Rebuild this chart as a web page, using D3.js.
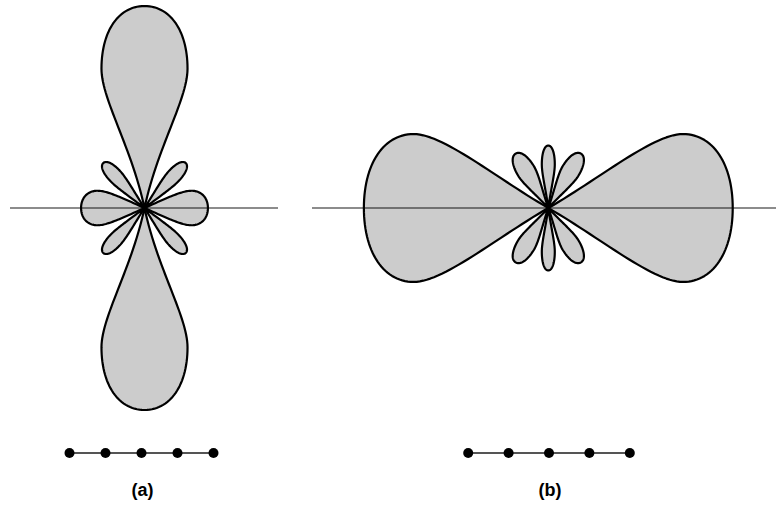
<!DOCTYPE html>
<html>
<head>
<meta charset="utf-8">
<script src="https://cdn.jsdelivr.net/npm/d3@7"></script>
<style>
  body { margin: 0; background: #fff; }
  svg { display: block; }
</style>
</head>
<body>
<div id="chart"></div>
<script>
//Lobes of the broadside pattern (a): direction (deg, from array axis), relative gain,
//half-width / length, where the widest point sits, angle at the root (deg)
var lobeAngleA = [90, 270, 0, 180, 47.5, 132.5, 227.5, 312.5];
var lobeGainA  = [1, 1, 0.314, 0.314, 0.302, 0.302, 0.302, 0.302];
var lobeWidthA = [0.213, 0.213, 0.272, 0.272, 0.115, 0.115, 0.115, 0.115];
var lobePeakA  = [0.69, 0.69, 0.74, 0.74, 0.72, 0.72, 0.72, 0.72];
var lobeRootA  = [12, 12, 24, 24, 10, 10, 10, 10];

//Lobes of the endfire pattern (b)
var lobeAngleB = [0, 180, 90, 270, 59, 121, 239, 301];
var lobeGainB  = [0.913, 0.913, 0.309, 0.309, 0.314, 0.314, 0.314, 0.314];
var lobeWidthB = [0.401, 0.401, 0.104, 0.104, 0.145, 0.145, 0.145, 0.145];
var lobePeakB  = [0.73, 0.73, 0.70, 0.70, 0.68, 0.68, 0.68, 0.68];
var lobeRootB  = [30, 30, 8, 8, 12, 12, 12, 12];

//The five array elements and the panel labels
var elements = [-2, -1, 0, 1, 2];
var labels = ["(a)", "(b)"];

var width = 776,
    height = 512;

var svg = d3.select("#chart").append("svg")
    .attr("width", width)
    .attr("height", height);

//Radial scale: gain 1 = length of the broadside main lobe
var rScale = d3.scaleLinear().domain([0, 1]).range([0, 202]);

var panels = [
  {label: labels[0], cx: 144.5, cy: 208, axis: [10, 278], dotX: 141.5, dotStep: 36,
   angle: lobeAngleA, gain: lobeGainA, w: lobeWidthA, peak: lobePeakA, root: lobeRootA},
  {label: labels[1], cx: 548.3, cy: 208, axis: [312, 776], dotX: 549, dotStep: 40.4,
   angle: lobeAngleB, gain: lobeGainB, w: lobeWidthB, peak: lobePeakB, root: lobeRootB}
];

///////////////////////////////////////////////////////////////////////////
//////////////////////// Build one lobe outline ///////////////////////////
///////////////////////////////////////////////////////////////////////////

//lobe lies along +x with its root at the origin. Each half is two cubics:
//root -> widest point (flat there), then widest point -> rounded tip
function cubic(p0, p1, p2, p3, t) {
  var u = 1 - t;
  return [
    u*u*u*p0[0] + 3*u*u*t*p1[0] + 3*u*t*t*p2[0] + t*t*t*p3[0],
    u*u*u*p0[1] + 3*u*u*t*p1[1] + 3*u*t*t*p2[1] + t*t*t*p3[1]
  ];
}

function lobePoints(len, wRatio, peakPos, rootDeg) {
  var B = wRatio * len, D = peakPos * len, A = len - D;
  var ra = rootDeg * Math.PI / 180;
  var k1 = 0.45 * D, k2 = 0.22 * D, kap = 0.6;

  var s1 = [[0, 0], [k1 * Math.cos(ra), k1 * Math.sin(ra)], [D - k2, B], [D, B]];
  var s2 = [[D, B], [D + kap * A, B], [len, kap * B], [len, 0]];

  var half = [], i, n = 30;
  for (i = 0; i <= n; i++) half.push(cubic(s1[0], s1[1], s1[2], s1[3], i / n));
  for (i = 1; i <= n; i++) half.push(cubic(s2[0], s2[1], s2[2], s2[3], i / n));

  var other = half.slice(0, half.length - 1).reverse().map(function (q) { return [q[0], -q[1]]; });
  return half.concat(other);
}

///////////////////////////////////////////////////////////////////////////
/////////////////////////// Draw the patterns /////////////////////////////
///////////////////////////////////////////////////////////////////////////

panels.forEach(function (p) {
  var lobes = p.angle.map(function (a, i) {
    return {angle: a, pts: lobePoints(p.gain[i], p.w[i], p.peak[i], p.root[i])};
  });

  function lobePath(d) {
    var a = d.angle * Math.PI / 180, c = Math.cos(a), s = Math.sin(a);
    return d3.line()
      .x(function (q) { return p.cx + rScale(q[0] * c - q[1] * s); })
      .y(function (q) { return p.cy - rScale(q[0] * s + q[1] * c); })(d.pts) + "Z";
  }

  var g = svg.append("g");

  //fills first
  g.selectAll(".lobe-fill")
    .data(lobes)
    .enter().append("path")
    .attr("class", "lobe-fill")
    .attr("d", lobePath)
    .style("fill", "#cccccc")
    .style("stroke", "none");

  //array axis
  g.append("line")
    .attr("x1", p.axis[0]).attr("x2", p.axis[1])
    .attr("y1", p.cy).attr("y2", p.cy)
    .style("stroke", "rgba(0,0,0,0.45)")
    .style("stroke-width", 2);

  //outlines on top
  g.selectAll(".lobe-line")
    .data(lobes)
    .enter().append("path")
    .attr("class", "lobe-line")
    .attr("d", lobePath)
    .style("fill", "none")
    .style("stroke", "#000")
    .style("stroke-width", 2.2)
    .style("stroke-linejoin", "round");

  //elements of the array
  var xDot = d3.scaleLinear().domain([-1, 1]).range([p.dotX - p.dotStep, p.dotX + p.dotStep]);

  g.append("line")
    .attr("x1", xDot(elements[0])).attr("x2", xDot(elements[elements.length - 1]))
    .attr("y1", 453).attr("y2", 453)
    .style("stroke", "#555")
    .style("stroke-width", 2);

  g.selectAll(".element")
    .data(elements)
    .enter().append("circle")
    .attr("class", "element")
    .attr("cx", function (d) { return xDot(d); })
    .attr("cy", 453)
    .attr("r", 5)
    .style("fill", "#000");

  g.append("text")
    .attr("x", p.dotX + 1)
    .attr("y", 496)
    .attr("text-anchor", "middle")
    .style("font-family", "'Liberation Sans', Arial, sans-serif")
    .style("font-weight", "bold")
    .style("font-size", "18px")
    .text(p.label);
});
</script>
</body>
</html>
